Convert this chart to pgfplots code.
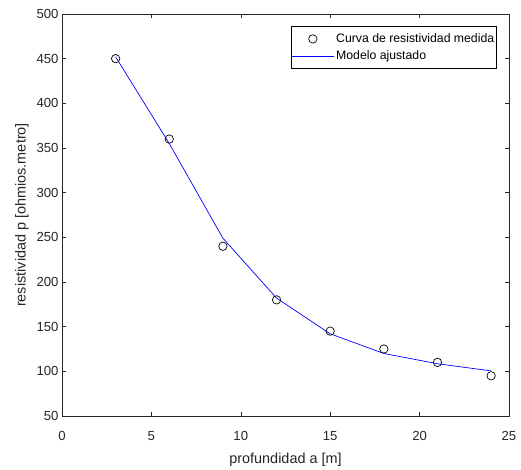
\documentclass[border=0pt]{standalone}
\usepackage{pgfplots}
\pgfplotsset{compat=1.18}
\usetikzlibrary{calc}
\usepackage{fontspec}
\setmainfont{Liberation Sans}
\definecolor{axgray}{gray}{0.15}
\pgfplotsset{
  markleg/.style={legend image code/.code={\draw[mark repeat=2,mark phase=2,##1] plot coordinates {(0bp,0bp) (21bp,0bp) (42bp,0bp)};}},
  lineleg/.style={legend image code/.code={\draw[##1] (0bp,0bp) -- (42bp,0bp);}},
}
\begin{document}
\begin{tikzpicture}
\begin{axis}[
  scale only axis,
  width=447bp, height=402bp,
  xmin=0, xmax=25, ymin=50, ymax=500,
  xtick={0,5,...,25}, ytick={50,100,...,500},
  tick align=inside, tick pos=both,
  major tick length=4.5bp,
  axis line style={axgray, line width=0.6pt},
  every tick/.style={axgray, line width=0.6pt},
  tick label style={font=\fontsize{13.2}{15}\selectfont, text=axgray},
  xticklabel style={yshift=-12bp},
  /pgf/number format/assume math mode=true,
  xlabel={profundidad a [m]},
  ylabel={resistividad p [ohmios.metro]},
  label style={font=\fontsize{14.5}{17}\selectfont, text=axgray},
  xlabel shift=5bp,
  ylabel shift=1bp,
  legend style={at={(0.973,0.969)}, anchor=north east, draw=black, line width=0.5pt,
    font=\fontsize{12.3}{14}\selectfont, inner ysep=5bp, inner xsep=0.5bp, row sep=3bp},
  legend cell align=left,
]
\addplot[only marks, mark=o, mark size=4.2bp, black, mark options={line width=0.7pt}, markleg]
  coordinates {(3,450) (6,360) (9,240) (12,180) (15,145) (18,125) (21,110) (24,95)};
\addlegendentry{Curva de resistividad medida}
\addplot[blue, line width=0.7pt, lineleg]
  coordinates {(3,452) (6,355) (9,249) (12,182) (15,142) (18,120) (21,108.5) (24,100.5)};
\addlegendentry{Modelo ajustado}
\end{axis}
\pgfresetboundingbox
\path ($(current axis.south west)+(-62bp,-54bp)$) rectangle ($(current axis.north east)+(12bp,14bp)$);
\end{tikzpicture}
\end{document}
